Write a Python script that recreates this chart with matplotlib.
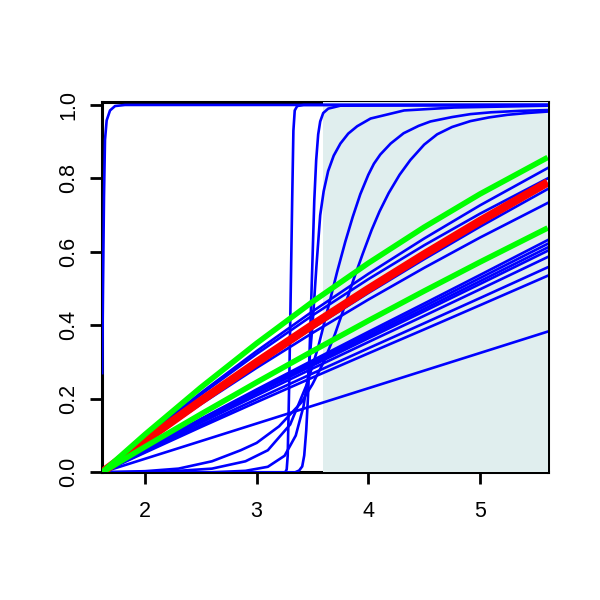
import matplotlib
matplotlib.use("Agg")
import matplotlib.pyplot as plt
from matplotlib.patches import Rectangle

plt.rcParams['font.family'] = ['Liberation Sans', 'DejaVu Sans']

# ---- data ----
x_limits = [1.617, 5.606]
shade_start = 3.59
x_ticks = [2, 3, 4, 5]
y_ticks = [0.0, 0.2, 0.4, 0.6, 0.8, 1.0]
y_tick_labels = ["0.0", "0.2", "0.4", "0.6", "0.8", "1.0"]

# near-linear fan of curves, sampled on a common x grid
fan_x = [1.617, 2.0, 2.5, 3.0, 3.5, 4.0, 4.5, 5.0, 5.606]
fan_blue = [
    [0, 0.0959, 0.2159, 0.3300, 0.4380, 0.5402, 0.6364, 0.7267, 0.8282],
    [0, 0.0940, 0.2113, 0.3223, 0.4271, 0.5257, 0.6180, 0.7040, 0.8000],
    [0, 0.0840, 0.1904, 0.2933, 0.3925, 0.4881, 0.5802, 0.6686, 0.7710],
    [0, 0.0820, 0.1853, 0.2844, 0.3793, 0.4701, 0.5566, 0.6390, 0.7332],
    [0, 0.0632, 0.1454, 0.2256, 0.3046, 0.3824, 0.4595, 0.5372, 0.632],
    [0, 0.0622, 0.1431, 0.2221, 0.2998, 0.3763, 0.4522, 0.5287, 0.622],
    [0, 0.0612, 0.1408, 0.2185, 0.2950, 0.3703, 0.4449, 0.5202, 0.612],
    [0, 0.0603, 0.1387, 0.2153, 0.2906, 0.3648, 0.4384, 0.5126, 0.603],
    [0, 0.0586, 0.1348, 0.2092, 0.2825, 0.3545, 0.4260, 0.4981, 0.586],
    [0, 0.0558, 0.1283, 0.1992, 0.2690, 0.3376, 0.4057, 0.4743, 0.558],
    [0, 0.0535, 0.1231, 0.1910, 0.2579, 0.3237, 0.3889, 0.4548, 0.535],
    [0, 0.0368, 0.0848, 0.1328, 0.1808, 0.2288, 0.2768, 0.3248, 0.383],
]
red_y = [0, 0.0857, 0.1943, 0.2994, 0.4009, 0.4989, 0.5932, 0.6840, 0.7892]
green_upper_y = [0, 0.1030, 0.2309, 0.3512, 0.4641, 0.5694, 0.6673, 0.7576, 0.8571]
green_lower_y = [0, 0.0694, 0.1582, 0.2450, 0.3298, 0.4127, 0.4935, 0.5723, 0.6651]

# steep / sigmoid curves
curveA_x = [1.617, 1.624, 1.633, 1.642, 1.657, 1.687, 1.732, 1.821, 5.606]
curveA_y = [0.27, 0.50, 0.75, 0.905, 0.958, 0.985, 0.997, 1.0, 1.0]

curveB_x = [1.617, 3.256, 3.269, 3.278, 3.292, 3.305, 3.318, 3.329, 3.341, 3.363, 3.42, 5.606]
curveB_y = [0, 0, 0.008, 0.045, 0.25, 0.49, 0.74, 0.93, 0.985, 0.997, 1.0, 1.0]

curveC_x = [1.617, 3.345, 3.381, 3.408, 3.426, 3.444, 3.462, 3.480, 3.498, 3.516, 3.533, 3.551,
            3.569, 3.596, 3.641, 3.749, 5.606]
curveC_y = [0, 0, 0.005, 0.016, 0.046, 0.114, 0.22, 0.385, 0.56, 0.74, 0.85, 0.92,
            0.955, 0.978, 0.99, 0.998, 1.0]

curveD_x = [1.617, 2.6, 2.9, 3.1, 3.25, 3.35, 3.42, 3.46, 3.5, 3.535, 3.569, 3.6, 3.64,
            3.69, 3.75, 3.82, 3.9, 4.02, 4.32, 4.77, 5.606]
curveD_y = [0, 0, 0.004, 0.015, 0.045, 0.10, 0.18, 0.26, 0.40, 0.56, 0.70, 0.765, 0.82,
            0.862, 0.895, 0.922, 0.942, 0.963, 0.985, 0.993, 0.998]

curveE_x = [1.617, 2.2, 2.6, 2.9, 3.1, 3.3, 3.45, 3.55, 3.65, 3.72, 3.794, 3.86, 3.928,
            4.0, 4.05, 4.107, 4.2, 4.316, 4.45, 4.556, 4.75, 4.914, 5.1, 5.362, 5.606]
curveE_y = [0, 0.002, 0.01, 0.03, 0.06, 0.13, 0.24, 0.34, 0.46, 0.545, 0.628, 0.695, 0.757,
            0.81, 0.84, 0.865, 0.895, 0.923, 0.943, 0.955, 0.967, 0.975, 0.980, 0.984, 0.986]

curveF_x = [1.617, 2.0, 2.3, 2.6, 2.857, 3.0, 3.2, 3.4, 3.5, 3.6, 3.7, 3.78, 3.868, 3.95,
            4.03, 4.1, 4.182, 4.28, 4.376, 4.5, 4.616, 4.75, 4.914, 5.08, 5.243, 5.42, 5.606]
curveF_y = [0, 0.003, 0.01, 0.03, 0.06, 0.08, 0.125, 0.19, 0.24, 0.30, 0.375, 0.445, 0.525, 0.595,
            0.66, 0.71, 0.76, 0.81, 0.85, 0.892, 0.92, 0.94, 0.956, 0.966, 0.973, 0.978, 0.982]

# ---- plot ----
fig = plt.figure(figsize=(6, 6), dpi=100)
ax = fig.add_axes([102.2 / 600, (600 - 472.3) / 600, 445.5 / 600, (472.3 - 102) / 600])

ax.add_patch(Rectangle((shade_start, -0.1), 3.0, 1.3, facecolor='#E0EEEE',
                       edgecolor='none', zorder=2.6))

blue_kw = dict(color='#0000FF', lw=1.9, zorder=3, solid_joinstyle='round')
for ys in fan_blue:
    ax.plot(fan_x, ys, **blue_kw)
for cx, cy in [(curveA_x, curveA_y), (curveB_x, curveB_y), (curveC_x, curveC_y),
               (curveD_x, curveD_y), (curveE_x, curveE_y), (curveF_x, curveF_y)]:
    ax.plot(cx, cy, **blue_kw)

ax.plot(fan_x, red_y, color='#FF0000', lw=6, zorder=4, solid_capstyle='butt')
ax.plot(fan_x, green_upper_y, color='#00FF00', lw=4, zorder=5, solid_capstyle='butt')
ax.plot(fan_x, green_lower_y, color='#00FF00', lw=4, zorder=5, solid_capstyle='butt')

ax.set_xlim(x_limits)
ax.set_ylim(0, 1.008)
ax.set_xticks(x_ticks)
ax.set_xticklabels([str(t) for t in x_ticks])
ax.set_yticks(y_ticks)
ax.set_yticklabels(y_tick_labels, rotation=90, va='center')

for s in ax.spines.values():
    s.set_linewidth(2.2)
    s.set_color('black')
ax.tick_params(axis='both', length=8.6, width=2.0, labelsize=15.5, color='black')
ax.tick_params(axis='x', pad=12)
ax.tick_params(axis='y', pad=8)

fig.savefig('out.png', dpi=100)
